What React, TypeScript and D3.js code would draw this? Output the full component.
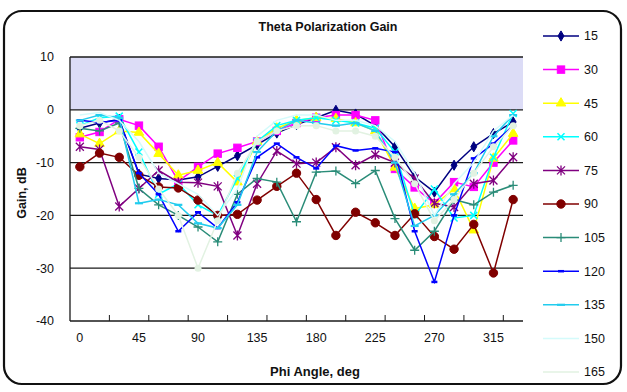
import React from "react";
import * as d3 from "d3";

const categories = [0, 15, 30, 45, 60, 75, 90, 105, 120, 135, 150, 165, 180, 195, 210, 225, 240, 255, 270, 285, 300, 315, 330];
const xTickLabels = [0, 45, 90, 135, 180, 225, 270, 315];
const yTicks = [10, 0, -10, -20, -30, -40];
const seriesNames = ["15", "30", "45", "60", "75", "90", "105", "120", "135", "150", "165"];

const s15 = [-3.5, -2.5, -1.8, -12.2, -13, -13.3, -12.7, -10.7, -8.7, -6.6, -4.4, -2.8, -1.5, -0.1, -0.8, -3, -7, -12.7, -15.6, -10.5, -7, -4.5, -2.3];
const s30 = [-5.2, -4.2, -1.8, -3, -7, -13.5, -10.8, -8.3, -7.2, -6, -4, -2.5, -1.5, -1, -1, -2, -11.2, -14.7, -17.7, -13.7, -14.6, -10, -5.8];
const s45 = [-4.6, -6.4, -4, -4.3, -8.3, -12.4, -11.5, -10, -13.7, -6, -3.5, -2, -1.5, -1.7, -2.5, -4, -10.9, -18.7, -18, -15, -22.8, -9.2, -4.5];
const s60 = [-3, -1.5, -1.2, -8, -16, -14, -18, -20, -13, -6, -3, -2, -1.5, -2, -2.5, -3.5, -8, -20, -15, -20.5, -20, -9, -0.7];
const s75 = [-7, -7.5, -18.3, -14.9, -11.5, -13.7, -13.8, -14.5, -23.8, -14, -7.8, -10.2, -10, -7.1, -10.5, -8.5, -10, -13, -17.7, -18.4, -14, -13.4, -9];
const s90 = [-10.8, -8.2, -9, -12.4, -14.6, -14.8, -17.1, -20, -19.8, -17.1, -14.5, -12, -17, -23.8, -19.4, -21.4, -23.8, -19.7, -24, -26.4, -21.7, -30.9, -17];
const s105 = [-3.5, -4, -2.5, -14.9, -18, -20, -22.2, -25, -16, -13, -13.7, -21.2, -11.8, -11.6, -14, -11.5, -20.6, -26.6, -23, -17, -18, -15.6, -14.3];
const s120 = [-2, -2.4, -2, -12, -16, -23, -19.4, -22.4, -17.5, -9, -6.4, -9, -11.1, -6.8, -7.7, -7.3, -8, -23, -32.6, -20, -9.2, -6.4, -3];
const s135 = [-2, -1, -1.5, -17.7, -17, -18, -21.5, -22.4, -18, -8, -4, -2, -2.5, -3, -2.5, -4, -10, -22, -20, -16, -12, -5, -1];
const s150 = [-1, -0.5, -2, -6, -12, -14, -16, -20, -15, -5, -2, -1, -1, -2, -2, -3, -6, -12, -20, -14, -10, -4, -1];
const s165 = [-3, -2, -4, -9, -15, -20, -30, -21, -12, -6, -4, -3, -3, -4, -4, -5, -9, -14, -21, -17, -12, -7, -3];

const seriesData = [s15, s30, s45, s60, s75, s90, s105, s120, s135, s150, s165];
const colors = ["#000080", "#ff00ff", "#ffff00", "#00ffff", "#800080", "#800000", "#2a8c78", "#0000ff", "#22ccee", "#d4fbfb", "#e2f2e2"];
const markers = ["diamond", "square", "triangle", "x", "star", "circle", "plus", "dash", "longdash", "none", "smallcircle"];
const legendMarkers = ["diamond", "square", "triangle", "x", "star", "circle", "plus", "dash", "longdash", "none", "none"];

function Marker({ type, x, y, color }: { type: string; x: number; y: number; color: string }) {
  switch (type) {
    case "diamond":
      return <path d={d3.symbol().type(d3.symbolDiamond).size(30)()!} transform={`translate(${x},${y})`} fill={color} stroke={color} />;
    case "square":
      return <rect x={x - 3.7} y={y - 3.7} width={7.4} height={7.4} fill={color} stroke={color} />;
    case "triangle":
      return <path d={d3.symbol().type(d3.symbolTriangle).size(40)()!} transform={`translate(${x},${y})`} fill={color} stroke={color} />;
    case "x":
      return <path d={`M${x - 3.5},${y - 3.5}L${x + 3.5},${y + 3.5}M${x - 3.5},${y + 3.5}L${x + 3.5},${y - 3.5}`} stroke={color} strokeWidth={1.5} />;
    case "star":
      return <path d={`M${x - 4},${y - 4}L${x + 4},${y + 4}M${x - 4},${y + 4}L${x + 4},${y - 4}M${x},${y - 5}L${x},${y + 5}`} stroke={color} strokeWidth={1.3} />;
    case "circle":
      return <circle cx={x} cy={y} r={4.2} fill={color} stroke={color} />;
    case "smallcircle":
      return <circle cx={x} cy={y} r={3.5} fill={color} stroke="none" />;
    case "plus":
      return <path d={`M${x - 4.5},${y}L${x + 4.5},${y}M${x},${y - 4.5}L${x},${y + 4.5}`} stroke={color} strokeWidth={1.3} />;
    case "dash":
      return <path d={`M${x - 3},${y}L${x + 3},${y}`} stroke={color} strokeWidth={2.5} />;
    case "longdash":
      return <path d={`M${x - 4},${y}L${x + 4},${y}`} stroke={color} strokeWidth={2.2} />;
    default:
      return null;
  }
}

export default function App() {
  const W = 627, H = 392;
  const left = 70, right = 523, top = 57, bottom = 321;
  const x = d3.scaleBand<number>().domain(categories).range([left, right]).paddingInner(0).paddingOuter(0);
  const bw = x.bandwidth();
  const cx = (c: number) => (x(c) as number) + bw / 2;
  const y = d3.scaleLinear().domain([-40, 10]).range([bottom, top]);
  const line = d3.line<number>().x((_, i) => cx(categories[i])).y((d) => y(d));
  const font = "'Liberation Sans', Arial, sans-serif";
  const tickEdges = d3.range(2, categories.length + 1, 2).map((k) => left + k * bw);
  const legX = 543, legY0 = 36, legStep = 33.6;

  return (
    <svg width={W} height={H} style={{ position: "absolute", left: 0, top: 0, background: "#fff" }} fontFamily={font}>
      <rect x={0} y={0} width={W} height={H} fill="#fff" />
      <rect x={4} y={11} width={617} height={373} rx={18} ry={18} fill="#fff" stroke="#111" strokeWidth={2.2} />
      <rect x={left} y={y(10)} width={right - left} height={y(0) - y(10)} fill="#dcdcf6" />
      <text x={328} y={31} textAnchor="middle" fontSize={12.5} fontWeight="bold" fill="#111">Theta Polarization Gain</text>
      {yTicks.map((t) => (
        <line key={t} x1={left} x2={right} y1={y(t)} y2={y(t)} stroke="#1a1a1a" strokeWidth={1.3} />
      ))}
      <line x1={left} x2={left} y1={top} y2={bottom} stroke="#1a1a1a" strokeWidth={1.3} />
      {tickEdges.map((t, i) => (
        <line key={i} x1={t} x2={t} y1={bottom} y2={bottom - 6} stroke="#1a1a1a" strokeWidth={1} />
      ))}
      {yTicks.map((t) => (
        <text key={t} x={54} y={y(t)} dy="0.35em" textAnchor="end" fontSize={12.5} fill="#111">{t}</text>
      ))}
      {xTickLabels.map((t) => (
        <text key={t} x={cx(t)} y={342} textAnchor="middle" fontSize={12.5} fill="#111">{t}</text>
      ))}
      <text transform={`translate(26,${(top + bottom) / 2 + 4}) rotate(-90)`} textAnchor="middle" fontSize={12.5} fontWeight="bold" fill="#111">Gain, dB</text>
      <text x={315} y={376} textAnchor="middle" fontSize={13} fontWeight="bold" fill="#111">Phi Angle, deg</text>
      {seriesData.map((data, si) => (
        <g key={si}>
          <path d={line(data)!} fill="none" stroke={colors[si]} strokeWidth={1.5} />
          {data.map((v, i) => (
            <Marker key={i} type={markers[si]} x={cx(categories[i])} y={y(v)} color={colors[si]} />
          ))}
        </g>
      ))}
      {seriesNames.map((n, i) => {
        const ly = legY0 + i * legStep;
        return (
          <g key={n}>
            <line x1={legX} x2={legX + 36} y1={ly} y2={ly} stroke={colors[i]} strokeWidth={1.5} />
            <Marker type={legendMarkers[i]} x={legX + 18} y={ly} color={colors[i]} />
            <text x={legX + 41} y={ly} dy="0.35em" fontSize={12.5} fill="#111">{n}</text>
          </g>
        );
      })}
    </svg>
  );
}
